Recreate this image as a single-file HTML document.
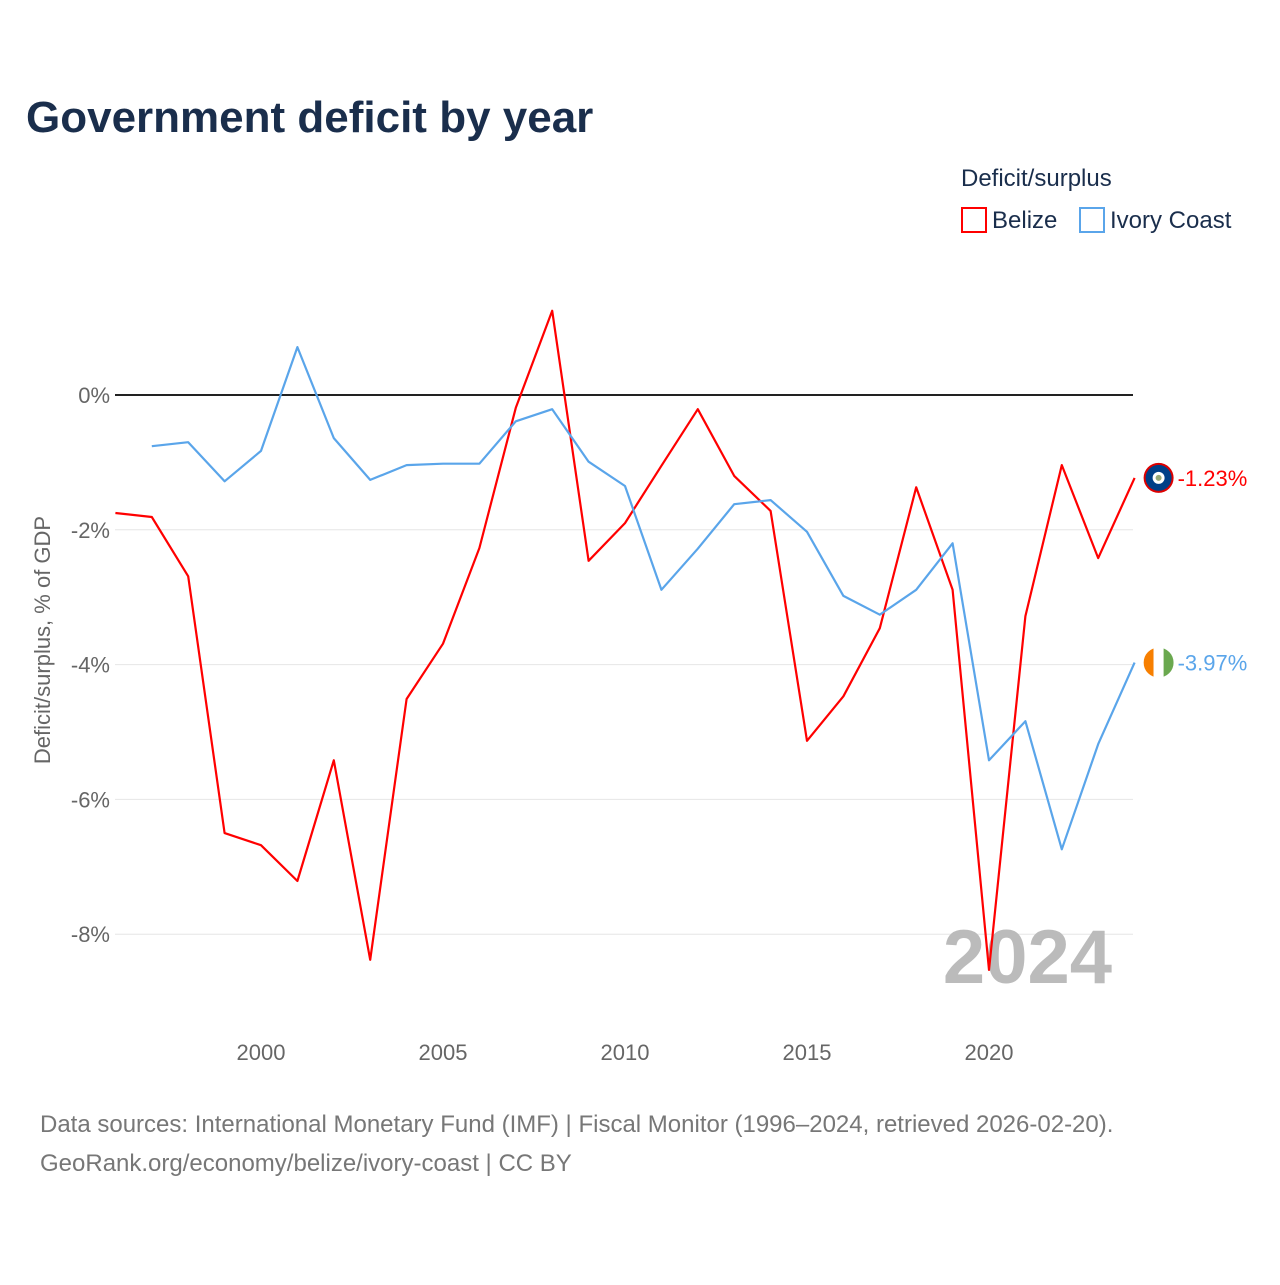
<!DOCTYPE html>
<html><head><meta charset="utf-8"><style>
body{margin:0;background:#fff;font-family:"Liberation Sans",sans-serif;}
svg text{font-family:"Liberation Sans",sans-serif;}
</style></head><body>
<svg id="chart" width="1280" height="1280" viewBox="0 0 1280 1280" xmlns="http://www.w3.org/2000/svg">
<text x="26" y="132" font-size="44" font-weight="bold" fill="#1a2e4c">Government deficit by year</text>
<text x="961" y="186" font-size="24" fill="#1a2e4c">Deficit/surplus</text>
<g><rect x="962" y="208" width="24" height="24" fill="none" stroke="#ff0000" stroke-width="2"/><text x="992" y="228" font-size="24" fill="#1a2e4c">Belize</text></g>
<g><rect x="1080" y="208" width="24" height="24" fill="none" stroke="#5aa5ea" stroke-width="2"/><text x="1110" y="228" font-size="24" fill="#1a2e4c">Ivory Coast</text></g>
<g id="grid"></g><g id="xt"></g>
<text transform="translate(50,640) rotate(-90)" text-anchor="middle" font-size="22" fill="#666">Deficit/surplus, % of GDP</text>
<text x="1112" y="983" text-anchor="end" font-size="76" font-weight="bold" fill="#bbb">2024</text>
<g id="lines"></g>
<text x="40" y="1132" font-size="24" fill="#777">Data sources: International Monetary Fund (IMF) | Fiscal Monitor (1996–2024, retrieved 2026-02-20).</text>
<text x="40" y="1171" font-size="24" fill="#777">GeoRank.org/economy/belize/ivory-coast | CC BY</text>
</svg>
<script>
const years=[1996,1997,1998,1999,2000,2001,2002,2003,2004,2005,2006,2007,2008,2009,2010,2011,2012,2013,2014,2015,2016,2017,2018,2019,2020,2021,2022,2023,2024];
const belize=[-1.75,-1.81,-2.69,-6.50,-6.68,-7.21,-5.42,-8.38,-4.51,-3.69,-2.27,-0.19,1.25,-2.46,-1.90,-1.05,-0.21,-1.20,-1.72,-5.13,-4.47,-3.46,-1.37,-2.89,-8.53,-3.28,-1.04,-2.42,-1.23];
const ivory=[null,-0.76,-0.70,-1.28,-0.83,0.71,-0.64,-1.26,-1.04,-1.02,-1.02,-0.39,-0.21,-0.99,-1.35,-2.89,-2.28,-1.62,-1.56,-2.03,-2.98,-3.26,-2.89,-2.20,-5.42,-4.84,-6.74,-5.18,-3.97];
const yTicks=[0,-2,-4,-6,-8];
const xTicks=[2000,2005,2010,2015,2020];
const NS="http://www.w3.org/2000/svg";
const X=y=>261+(y-2000)*36.4;
const Y=v=>395-v*67.4;
function mk(t,a,p){const e=document.createElementNS(NS,t);for(const k in a)e.setAttribute(k,a[k]);p.appendChild(e);return e;}
const grid=document.getElementById('grid');
yTicks.forEach(v=>{
 const l=mk('line',{x1:115,x2:1133,y1:Y(v),y2:Y(v),stroke:v===0?'#222':'#e6e6e6','stroke-width':v===0?2:1},grid);
 
 
 const t=mk('text',{x:110,y:Y(v)+8,'text-anchor':'end','font-size':22,fill:'#666'},grid);
 t.textContent=v+'%';
 
 
});
const xt=document.getElementById('xt');
xTicks.forEach(y=>{
 const t=mk('text',{x:X(y),y:1060,'text-anchor':'middle','font-size':22,fill:'#666'},xt);
 t.textContent=y;
 
 
});
const lines=document.getElementById('lines');
function series(vals,col,name,flag){
 const pts=[];vals.forEach((v,i)=>{if(v!==null)pts.push(X(years[i]).toFixed(1)+','+Y(v).toFixed(1));});
 const p=mk('polyline',{points:pts.join(' '),fill:'none',stroke:col,'stroke-width':2.2,'stroke-linejoin':'round'},lines);
 
 
 const last=vals[vals.length-1],lx=X(years[years.length-1]),ly=Y(last);
 const g=mk('g',{},lines);
 
 
 flag(g,lx+24,ly);
 const t=mk('text',{x:lx+43,y:ly+8,'font-size':22,fill:col},lines);
 t.textContent=last.toFixed(2)+'%';
 
 
}
series(belize,'#ff0000','belize',(g,cx,cy)=>{mk('circle',{cx,cy,r:15,fill:'#d00'},g);mk('circle',{cx,cy,r:13,fill:'#003f87'},g);mk('circle',{cx,cy,r:6,fill:'#fff'},g);mk('circle',{cx,cy,r:3,fill:'#9a7'},g);});
series(ivory,'#5aa5ea','ivory-coast',(g,cx,cy)=>{const c=mk('clipPath',{id:'cc'},g);mk('circle',{cx,cy,r:15},c);mk('rect',{x:cx-15,y:cy-15,width:10,height:30,fill:'#f77f00','clip-path':'url(#cc)'},g);mk('rect',{x:cx-5,y:cy-15,width:10,height:30,fill:'#fff','clip-path':'url(#cc)'},g);mk('rect',{x:cx+5,y:cy-15,width:10,height:30,fill:'#6aa84f','clip-path':'url(#cc)'},g);});
</script>
</body></html>
